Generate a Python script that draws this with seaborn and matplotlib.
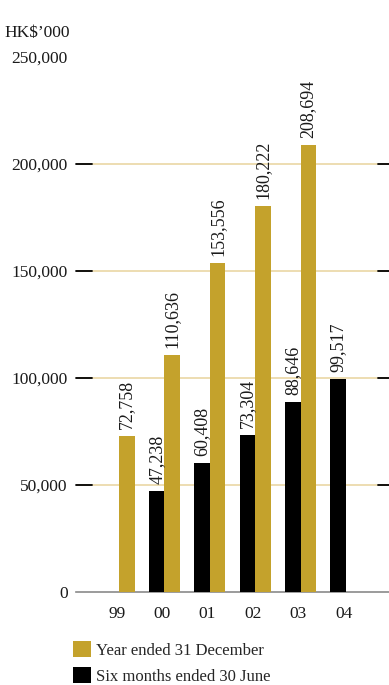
import numpy as np
import pandas as pd
import seaborn as sns
import matplotlib
matplotlib.use("Agg")
import matplotlib.pyplot as plt
from matplotlib.patches import Patch

years = ['99', '00', '01', '02', '03', '04']
year_ended = [72758, 110636, 153556, 180222, 208694, np.nan]
six_months = [np.nan, 47238, 60408, 73304, 88646, 99517]
series_names = ['Six months ended 30 June', 'Year ended 31 December']
y_ticks = [0, 50000, 100000, 150000, 200000, 250000]
unit_label = 'HK$’000'

GOLD = '#c4a22c'
BLACK = '#000000'
GRID = '#ead7a4'

df = pd.DataFrame({
    'year': years * 2,
    'value': six_months + year_ended,
    'series': [series_names[0]] * len(years) + [series_names[1]] * len(years),
}).dropna()

sns.set_theme(style='white')
plt.rcParams['font.family'] = ['Liberation Serif', 'DejaVu Serif']

fig = plt.figure(figsize=(3.89, 6.85), dpi=100)
ax = fig.add_axes([76/389, 1 - 592/685, 1 - 76/389, (592 - 57)/685])

sns.barplot(data=df, x='year', y='value', hue='series', order=years,
            hue_order=series_names, palette=[BLACK, GOLD], width=0.68,
            saturation=1, legend=False, ax=ax, zorder=3, linewidth=0,
            edgecolor='none')

for cont in ax.containers:
    ax.bar_label(cont, labels=[f'{b.get_height():,.0f}' for b in cont],
                 rotation=90, padding=5, fontsize=13, color='#1a1a1a')

ax.set_ylim(0, 250000)
ax.set_xlim(-0.95, 5.95)
ax.set_yticks(y_ticks)
ax.set_yticklabels([f'{v:,}' for v in y_ticks], fontsize=12.5)
ax.set_xticks(np.arange(len(years)) - 0.05)
ax.set_xticklabels(years, fontsize=12.5)
ax.set_xlabel('')
ax.set_ylabel('')

for y in y_ticks[1:-1]:
    ax.axhline(y, color=GRID, lw=1.2, zorder=1)
    ax.plot([0, 0.05], [y, y], transform=ax.get_yaxis_transform(),
            color='black', lw=1.3, zorder=2, clip_on=False)
    ax.plot([0.965, 1.0], [y, y], transform=ax.get_yaxis_transform(),
            color='black', lw=1.3, zorder=2, clip_on=False)

for s in ['top', 'right', 'left']:
    ax.spines[s].set_visible(False)
ax.spines['bottom'].set_color('#8a8a8a')
ax.spines['bottom'].set_linewidth(1.2)
ax.tick_params(axis='both', length=0, colors='#1a1a1a')
ax.tick_params(axis='y', pad=6)
ax.tick_params(axis='x', pad=10)

fig.text(70/389, 1 - 33/685, unit_label, ha='right', va='center', fontsize=12.5,
         color='#1a1a1a')

handles = [Patch(facecolor=GOLD, edgecolor='none', label=series_names[1]),
           Patch(facecolor=BLACK, edgecolor='none', label=series_names[0])]
fig.legend(handles=handles, loc='upper left', bbox_to_anchor=(68/389, 1 - 636/685),
           frameon=False, fontsize=12, handlelength=1.1, handleheight=1.1,
           handletextpad=0.3, labelspacing=0.5, borderaxespad=0, borderpad=0.3)

fig.savefig('out.png', dpi=100)
